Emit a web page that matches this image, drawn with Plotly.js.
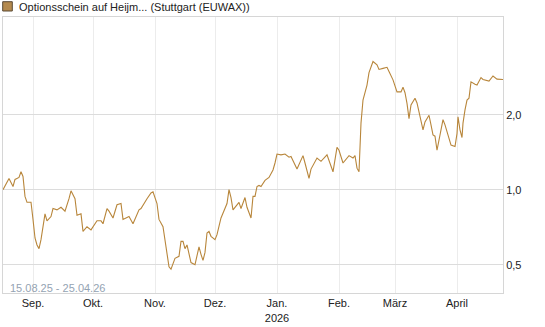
<!DOCTYPE html>
<html>
<head>
<meta charset="utf-8">
<script src="https://cdn.plot.ly/plotly-3.0.1.min.js"></script>
<style>
html,body{margin:0;padding:0;background:#fff;}
#chart{width:545px;height:327px;}
</style>
</head>
<body>
<div id="chart"></div>
<script>
var title = "Optionsschein auf Heijm... (Stuttgart (EUWAX))";
var periodLabel = "15.08.25 - 25.04.26";

var dates = [
"2025-08-17","2025-08-20","2025-08-22","2025-08-23","2025-08-25","2025-08-26","2025-08-27","2025-08-28","2025-08-29","2025-08-31",
"2025-09-01","2025-09-02","2025-09-03","2025-09-04","2025-09-05","2025-09-06","2025-09-07","2025-09-08","2025-09-10","2025-09-11",
"2025-09-13","2025-09-15","2025-09-17","2025-09-19","2025-09-20","2025-09-22","2025-09-23","2025-09-25","2025-09-26","2025-09-28","2025-09-30",
"2025-10-03","2025-10-05","2025-10-06","2025-10-08","2025-10-09","2025-10-11","2025-10-13","2025-10-15","2025-10-16","2025-10-18",
"2025-10-19","2025-10-21","2025-10-22","2025-10-24","2025-10-25","2025-10-27","2025-10-28","2025-10-30","2025-10-31",
"2025-11-02","2025-11-03","2025-11-05","2025-11-06","2025-11-07","2025-11-08","2025-11-09","2025-11-10","2025-11-11","2025-11-13",
"2025-11-14","2025-11-15","2025-11-16","2025-11-17","2025-11-18","2025-11-19","2025-11-21","2025-11-22","2025-11-23","2025-11-24",
"2025-11-25","2025-11-26","2025-11-27","2025-11-28","2025-11-29",
"2025-12-01","2025-12-02","2025-12-04","2025-12-05","2025-12-07","2025-12-08","2025-12-09","2025-12-10","2025-12-11","2025-12-13",
"2025-12-14","2025-12-16","2025-12-17","2025-12-19","2025-12-20","2025-12-21","2025-12-22","2025-12-23","2025-12-24","2025-12-26",
"2025-12-28","2025-12-30","2025-12-31",
"2026-01-01","2026-01-03","2026-01-05","2026-01-07","2026-01-08","2026-01-11","2026-01-14","2026-01-15","2026-01-17","2026-01-18",
"2026-01-21","2026-01-23","2026-01-26","2026-01-29","2026-01-31",
"2026-02-01","2026-02-03","2026-02-06","2026-02-08","2026-02-09","2026-02-10","2026-02-11","2026-02-12","2026-02-13","2026-02-15",
"2026-02-16","2026-02-18","2026-02-20","2026-02-21","2026-02-23","2026-02-25","2026-02-26","2026-02-28",
"2026-03-02","2026-03-04","2026-03-05","2026-03-06","2026-03-07","2026-03-08","2026-03-09","2026-03-11","2026-03-12","2026-03-13",
"2026-03-15","2026-03-16","2026-03-18","2026-03-19","2026-03-20","2026-03-21","2026-03-22","2026-03-24","2026-03-25","2026-03-26",
"2026-03-28","2026-03-29","2026-03-31",
"2026-04-01","2026-04-01 12:00","2026-04-02 12:00","2026-04-03 12:00","2026-04-04","2026-04-05","2026-04-06","2026-04-07","2026-04-08","2026-04-10",
"2026-04-11","2026-04-13","2026-04-14","2026-04-17","2026-04-19","2026-04-21","2026-04-24"
];

var prices = [
1.00,1.11,1.03,1.10,1.12,1.18,1.13,0.94,0.89,0.89,
0.76,0.64,0.60,0.58,0.63,0.71,0.80,0.75,0.78,0.84,
0.83,0.85,0.82,0.92,0.99,0.92,0.79,0.80,0.68,0.71,0.69,
0.75,0.75,0.73,0.84,0.82,0.77,0.87,0.88,0.76,0.77,
0.78,0.73,0.76,0.83,0.84,0.90,0.92,0.97,0.98,
0.88,0.76,0.71,0.63,0.555,0.49,0.48,0.51,0.53,0.54,
0.62,0.62,0.58,0.60,0.55,0.51,0.50,0.54,0.59,0.55,
0.52,0.56,0.67,0.68,0.65,
0.63,0.66,0.77,0.81,0.88,1.00,0.93,0.83,0.85,0.89,
0.84,0.93,0.85,0.77,0.94,0.94,1.03,1.04,1.03,1.09,
1.12,1.20,1.28,
1.39,1.38,1.39,1.35,1.36,1.21,1.37,1.28,1.11,1.21,
1.34,1.30,1.38,1.18,1.48,
1.44,1.28,1.37,1.34,1.37,1.22,1.18,1.85,2.29,2.63,
2.95,3.27,3.17,3.04,3.07,3.10,2.98,2.76,
2.47,2.47,2.58,2.45,2.22,1.93,2.19,2.33,2.23,2.03,
1.74,1.87,1.99,1.82,1.66,1.64,1.44,1.74,1.91,1.82,
1.61,1.51,1.49,
1.68,1.96,1.74,1.62,1.85,2.09,2.29,2.33,2.71,2.65,
2.63,2.82,2.77,2.73,2.86,2.78,2.77
];

var monthTicks = ["2025-09-01","2025-10-01","2025-11-01","2025-12-01","2026-01-01","2026-02-01","2026-03-01","2026-04-01"];
var monthLabels = ["Sep.","Okt.","Nov.","Dez.","Jan.<br>2026","Feb.","März","April"];
var yTicks = [0.5, 1, 2];
var yLabels = ["0,5", "1,0", "2,0"];

var FONT = "Liberation Sans, Arial, sans-serif";
var LINE = "#b8863b";

var trace = {
  x: dates, y: prices, type: "scatter", mode: "lines",
  line: {color: LINE, width: 1.1},
  hoverinfo: "skip", showlegend: false
};

var layout = {
  width: 545, height: 327,
  margin: {l: 3, r: 42, t: 17, b: 34, pad: 0},
  paper_bgcolor: "#fff", plot_bgcolor: "#fff",
  font: {family: FONT, size: 11, color: "#222"},
  showlegend: false,
  xaxis: {
    type: "date",
    range: ["2025-08-17", "2026-04-24"],
    tickvals: monthTicks, ticktext: monthLabels,
    showgrid: true, gridcolor: "#ececec", gridwidth: 1,
    showline: true, linecolor: "#d6d6d6", linewidth: 1, mirror: true,
    ticks: "", zeroline: false, fixedrange: true,
    tickfont: {family: FONT, size: 11, color: "#222"}
  },
  yaxis: {
    type: "log",
    range: [-0.4147, 0.6933],
    side: "right",
    tickvals: yTicks, ticktext: yLabels,
    showgrid: true, gridcolor: "#dcdcdc", gridwidth: 1,
    showline: true, linecolor: "#d6d6d6", linewidth: 1, mirror: true,
    ticks: "", zeroline: false, fixedrange: true,
    tickfont: {family: FONT, size: 11, color: "#222"}
  },
  shapes: [{
    type: "rect", xref: "paper", yref: "paper",
    x0: -0.0006, x1: 0.0186, y0: 1.0217, y1: 1.0554,
    fillcolor: "#b58a4e", line: {color: "#5a4a35", width: 1}
  }],
  annotations: [
    {text: title, xref: "paper", yref: "paper", x: 0.028, y: 1.038,
     xanchor: "left", yanchor: "middle", showarrow: false,
     font: {family: FONT, size: 11, color: "#222"}},
    {text: periodLabel, xref: "paper", yref: "paper", x: 0.0092, y: 0.0188,
     xanchor: "left", yanchor: "middle", showarrow: false,
     font: {family: FONT, size: 11, color: "#94a3b3"}}
  ]
};

Plotly.newPlot("chart", [trace], layout, {displayModeBar: false, staticPlot: true});
</script>
</body>
</html>
